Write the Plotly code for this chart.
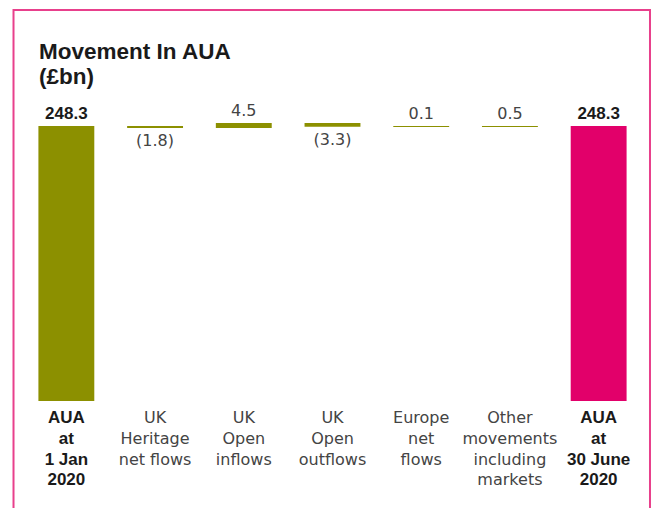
import numpy as np
import plotly.graph_objects as go

BOLD = '<span style="font-family:Liberation Sans, Arial;font-weight:bold;font-size:17px;fill:#1a1a1a">{}</span>'
categories = [
    BOLD.format("AUA") + "<br>" + BOLD.format("at") + "<br>" + BOLD.format("1 Jan") + "<br>" + BOLD.format("2020"),
    "UK<br>Heritage<br>net flows",
    "UK<br>Open<br>inflows",
    "UK<br>Open<br>outflows",
    "Europe<br>net<br>flows",
    "Other<br>movements<br>including<br>markets",
    BOLD.format("AUA") + "<br>" + BOLD.format("at") + "<br>" + BOLD.format("30 June") + "<br>" + BOLD.format("2020"),
]
movements = [248.3, -1.8, 4.5, -3.3, 0.1, 0.5]
closing = 248.3
labels = ["<b>248.3</b>", "(1.8)", "4.5", "(3.3)", "0.1", "0.5", "<b>248.3</b>"]
OLIVE = "#8C9000"
PINK = "#E2006A"

cum = np.cumsum(movements)
bases = [0.0] + list(cum[:-1]) + [0.0]
heights = [movements[0]] + movements[1:] + [closing]
colors = [OLIVE] * 6 + [PINK]
xs = list(range(len(categories)))
label_fam = ["Liberation Sans, Arial"] + ["DejaVu Sans"] * 5 + ["Liberation Sans, Arial"]
label_size = [17] + [16] * 5 + [17]
label_col = ["#1a1a1a"] + ["#444444"] * 5 + ["#1a1a1a"]

W, H = 652, 508
ml, mr, mt, mb = 21.5, 8.5, 100, 107
plot_h = H - mt - mb
top_px = 275.0
ymax = closing * plot_h / top_px

fig = go.Figure()
fig.add_trace(go.Bar(
    x=xs, y=heights, base=bases,
    marker=dict(color=colors, line=dict(width=0)),
    text=labels, textposition="outside", cliponaxis=False,
    textfont=dict(family=label_fam, size=label_size, color=label_col),
    hoverinfo="skip",
))

# pink frame (open at the bottom)
plot_w = W - ml - mr
x0 = (13 - ml) / plot_w
x1 = (650.5 - ml) / plot_w
yt = (H - mb - 10) / plot_h
yb = (H - mb - 520) / plot_h
fig.add_shape(type="path", xref="paper", yref="paper",
              path=f"M {x0} {yb} L {x0} {yt} L {x1} {yt} L {x1} {yb}",
              line=dict(color="#E8408C", width=2))

title_lines = ["<b>Movement In AUA</b>", "<b>(£bn)</b>"]
title_tops = [37, 62]
for t, ytop in zip(title_lines, title_tops):
    fig.add_annotation(xref="paper", yref="paper",
                       x=(37 - ml) / plot_w, y=(H - mb - ytop) / plot_h,
                       xanchor="left", yanchor="top", align="left",
                       text=t, showarrow=False,
                       font=dict(family="Liberation Sans, Arial", size=22.5, color="#1a1a1a"))

fig.update_layout(
    width=W, height=H,
    margin=dict(l=ml, r=mr, t=mt, b=mb, pad=0),
    paper_bgcolor="white", plot_bgcolor="white",
    bargap=0.37, showlegend=False,
    xaxis=dict(tickmode="array", tickvals=xs, ticktext=categories,
               range=[-0.5, len(categories) - 0.5],
               showgrid=False, zeroline=False, showline=False, ticks="",
               tickangle=0, ticklabelstandoff=5,
               tickfont=dict(family="DejaVu Sans", size=16, color="#444444")),
    yaxis=dict(range=[0, ymax], visible=False),
)

fig.write_html("out.html")
